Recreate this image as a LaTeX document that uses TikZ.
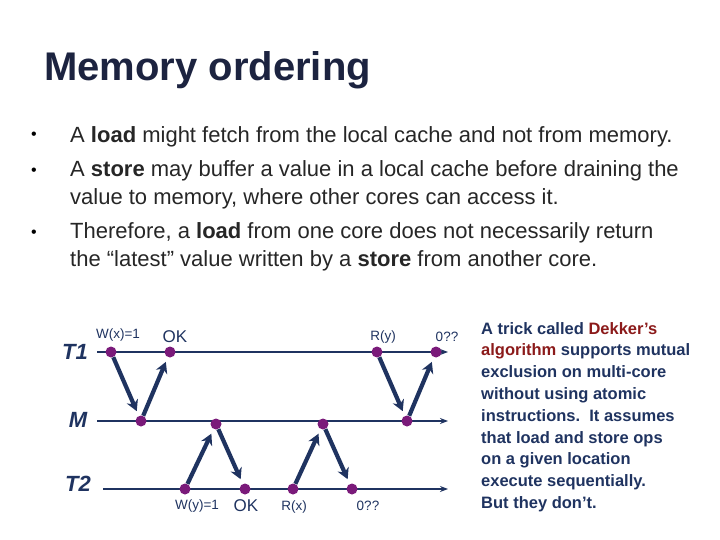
\documentclass[tikz,border=0pt]{standalone}
\usepackage{fontspec}
\setmainfont{Liberation Sans}
\usetikzlibrary{arrows.meta}
\definecolor{navy}{HTML}{1F3360}
\definecolor{dotc}{HTML}{7A1A7A}
\definecolor{ttl}{HTML}{1C2340}
\definecolor{dred}{HTML}{8B1A1A}
\begin{document}
\begin{tikzpicture}[x=1pt,y=-1pt,
 tl/.style={draw=navy,line width=1.6pt,-{Stealth[length=8pt,width=6pt]}},
 msg/.style={draw=navy,line width=4.2pt,-{Stealth[length=11pt,width=12pt]},shorten >=5pt},
 ev/.style={circle,fill=dotc,inner sep=0pt,minimum size=11pt},
 lbl/.style={font=\fontsize{13.5}{16}\selectfont,text=navy},
 tn/.style={font=\fontsize{22}{26}\selectfont\bfseries\itshape,text=navy},
 bul/.style={font=\fontsize{22}{28}\selectfont,text=black!85,anchor=north west,align=left}]
\useasboundingbox (0,0) rectangle (720,540);
\node[anchor=west,font=\fontsize{40}{46}\selectfont\bfseries,text=ttl,inner sep=0pt] (title) at (44,70) {Memory ordering};
\node[anchor=center,font=\fontsize{16}{16}\selectfont] (b1) at (34,136) {\textbullet};
\node[bul,anchor=west,inner sep=0pt] (t1) at (70,137) {A \textbf{load} might fetch from the local cache and not from memory.};
\node[anchor=center,font=\fontsize{16}{16}\selectfont] (b2) at (34,172) {\textbullet};
\node[bul,inner sep=0pt] (t2) at (70,160) {A \textbf{store} may buffer a value in a local cache before draining the\\value to memory, where other cores can access it.};
\node[anchor=center,font=\fontsize{16}{16}\selectfont] (b3) at (34,234) {\textbullet};
\node[bul,inner sep=0pt] (t3) at (70,222) {Therefore, a \textbf{load} from one core does not necessarily return\\the “latest” value written by a \textbf{store} from another core.};
% timelines
\coordinate (a1) at (97,352); \coordinate (a2) at (448,352);
\coordinate (m1) at (97,421); \coordinate (m2) at (448,421);
\coordinate (c1) at (103,489); \coordinate (c2) at (448,489);
\draw[tl] (a1) -- (a2); \draw[tl] (m1) -- (m2); \draw[tl] (c1) -- (c2);
\node[tn] (T1) at (75,352) {T1};
\node[tn] (M) at (78,420) {M};
\node[tn] (T2) at (78,484) {T2};
\node[ev] (p1) at (111,352) {}; \node[ev] (p2) at (170,352) {};
\node[ev] (p3) at (377,352) {}; \node[ev] (p4) at (436,352) {};
\node[ev] (q1) at (141,421) {}; \node[ev] (q2) at (216,424) {};
\node[ev] (q3) at (323,424) {}; \node[ev] (q4) at (407,421) {};
\node[ev] (r1) at (185,489) {}; \node[ev] (r2) at (245,489) {};
\node[ev] (r3) at (293,489) {}; \node[ev] (r4) at (352,489) {};
\draw[msg] (p1) -- (q1); \draw[msg] (q1) -- (p2);
\draw[msg] (p3) -- (q4); \draw[msg] (q4) -- (p4);
\draw[msg] (r1) -- (q2); \draw[msg] (q2) -- (r2);
\draw[msg] (r3) -- (q3); \draw[msg] (q3) -- (r4);
\node[lbl] (l1) at (118,335) {W(x)=1};
\node[lbl,font=\fontsize{17}{20}\selectfont] (l2) at (175,337) {OK};
\node[lbl] (l3) at (383,337) {R(y)};
\node[lbl] (l4) at (447,337) {0??};
\node[lbl] (l5) at (197,506) {W(y)=1};
\node[lbl,font=\fontsize{17}{20}\selectfont] (l6) at (246,506) {OK};
\node[lbl] (l7) at (294,507) {R(x)};
\node[lbl] (l8) at (368,506) {0??};
\node[font=\fontsize{16.5}{21.8}\selectfont\bfseries,text=navy,align=left,anchor=north west,inner sep=0pt] (side) at (481,322) {A trick called \textcolor{dred}{Dekker’s}\\\textcolor{dred}{algorithm} supports mutual\\exclusion on multi-core\\without using atomic\\instructions.\ \ It assumes\\that \textbf{load} and \textbf{store} ops\\on a given location\\execute sequentially.\\\textbf{But they don’t.}};
\end{tikzpicture}
\end{document}
